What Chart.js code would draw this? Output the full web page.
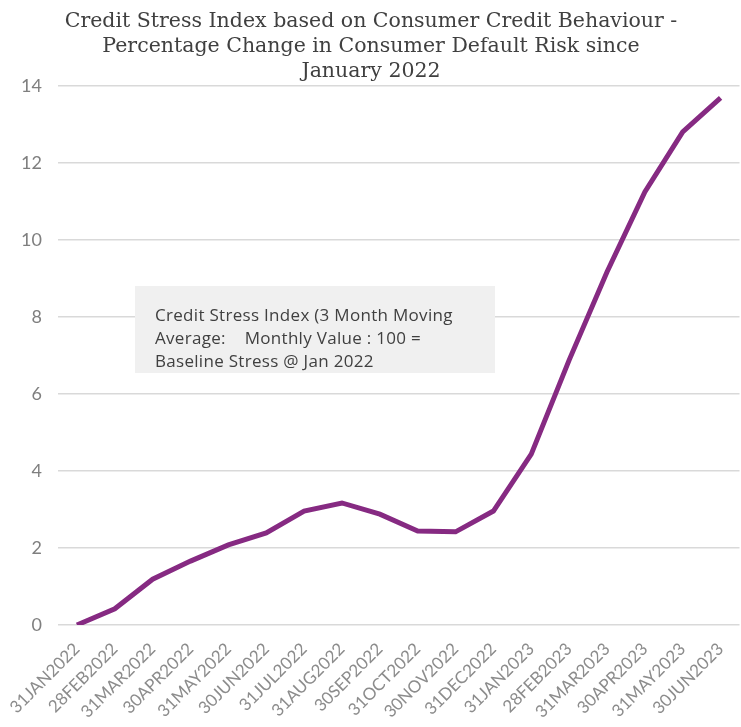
<!DOCTYPE html>
<html lang="en">
<head>
    <meta charset="UTF-8">
    <title>Credit Stress Index</title>
    <script src="https://cdn.jsdelivr.net/npm/chart.js"></script>
    <style>
        html, body { margin: 0; padding: 0; background: #ffffff; }
        .chart-box { position: relative; width: 741px; height: 727px; }
    </style>
</head>
<body>
    <div class="chart-box">
        <canvas id="stressChart"></canvas>
    </div>

    <script>
        // Chart data
        const months = ['31JAN2022', '28FEB2022', '31MAR2022', '30APR2022', '31MAY2022', '30JUN2022',
            '31JUL2022', '31AUG2022', '30SEP2022', '31OCT2022', '30NOV2022', '31DEC2022',
            '31JAN2023', '28FEB2023', '31MAR2023', '30APR2023', '31MAY2023', '30JUN2023'];
        const stressValues = [0, 0.42, 1.19, 1.66, 2.08, 2.39, 2.96, 3.17, 2.88, 2.44, 2.42, 2.96,
            4.44, 6.88, 9.17, 11.25, 12.81, 13.69];
        const titleLines = ['Credit Stress Index based on Consumer Credit Behaviour -',
            'Percentage Change in Consumer Default Risk since', 'January 2022'];
        const noteLines = ['Credit Stress Index (3 Month Moving',
            'Average:    Monthly Value : 100 =', 'Baseline Stress @ Jan 2022'];

        // Title and note box drawn on top of the chart
        const overlayText = {
            id: 'overlayText',
            afterDraw(chart) {
                const ctx = chart.ctx;
                ctx.save();
                ctx.fillStyle = '#404040';
                ctx.font = '20.5px "DejaVu Serif"';
                ctx.textAlign = 'center';
                ctx.textBaseline = 'middle';
                titleLines.forEach((line, i) => ctx.fillText(line, 371, 22 + i * 25));

                ctx.fillStyle = '#f0f0f0';
                ctx.fillRect(135, 286, 360, 87);
                ctx.fillStyle = '#404040';
                ctx.font = '17px "Open Sans"';
                ctx.letterSpacing = '0.3px';
                ctx.textAlign = 'left';
                noteLines.forEach((line, i) => ctx.fillText(line, 155, 316 + i * 23));
                ctx.restore();
            }
        };

        const ctx = document.getElementById('stressChart').getContext('2d');
        window.stressChart = new Chart(ctx, {
            type: 'line',
            data: {
                labels: months,
                datasets: [{
                    label: 'Credit Stress Index',
                    data: stressValues,
                    borderColor: '#862a82',
                    borderWidth: 5,
                    pointRadius: 0,
                    tension: 0,
                    fill: false
                }]
            },
            options: {
                responsive: true,
                maintainAspectRatio: false,
                animation: false,
                layout: {
                    padding: { top: 86, right: 0, left: 0, bottom: 0 }
                },
                plugins: {
                    legend: { display: false },
                    tooltip: { enabled: false }
                },
                scales: {
                    y: {
                        min: 0,
                        max: 14,
                        afterFit(scale) { scale.width = 58; },
                        ticks: {
                            stepSize: 2,
                            color: '#7f7f7f',
                            padding: 16,
                            font: { family: 'Lato', size: 18 }
                        },
                        grid: {
                            color: '#d9d9d9',
                            lineWidth: 1.5,
                            drawTicks: false
                        },
                        border: { display: false }
                    },
                    x: {
                        offset: true,
                        afterFit(scale) { scale.height = 102; },
                        ticks: {
                            color: '#8c8c8c',
                            maxRotation: 45,
                            minRotation: 45,
                            autoSkip: false,
                            padding: 6,
                            font: { family: 'Lato', size: 17 }
                        },
                        grid: { display: false },
                        border: { display: false }
                    }
                }
            },
            plugins: [overlayText]
        });
    </script>
</body>
</html>
